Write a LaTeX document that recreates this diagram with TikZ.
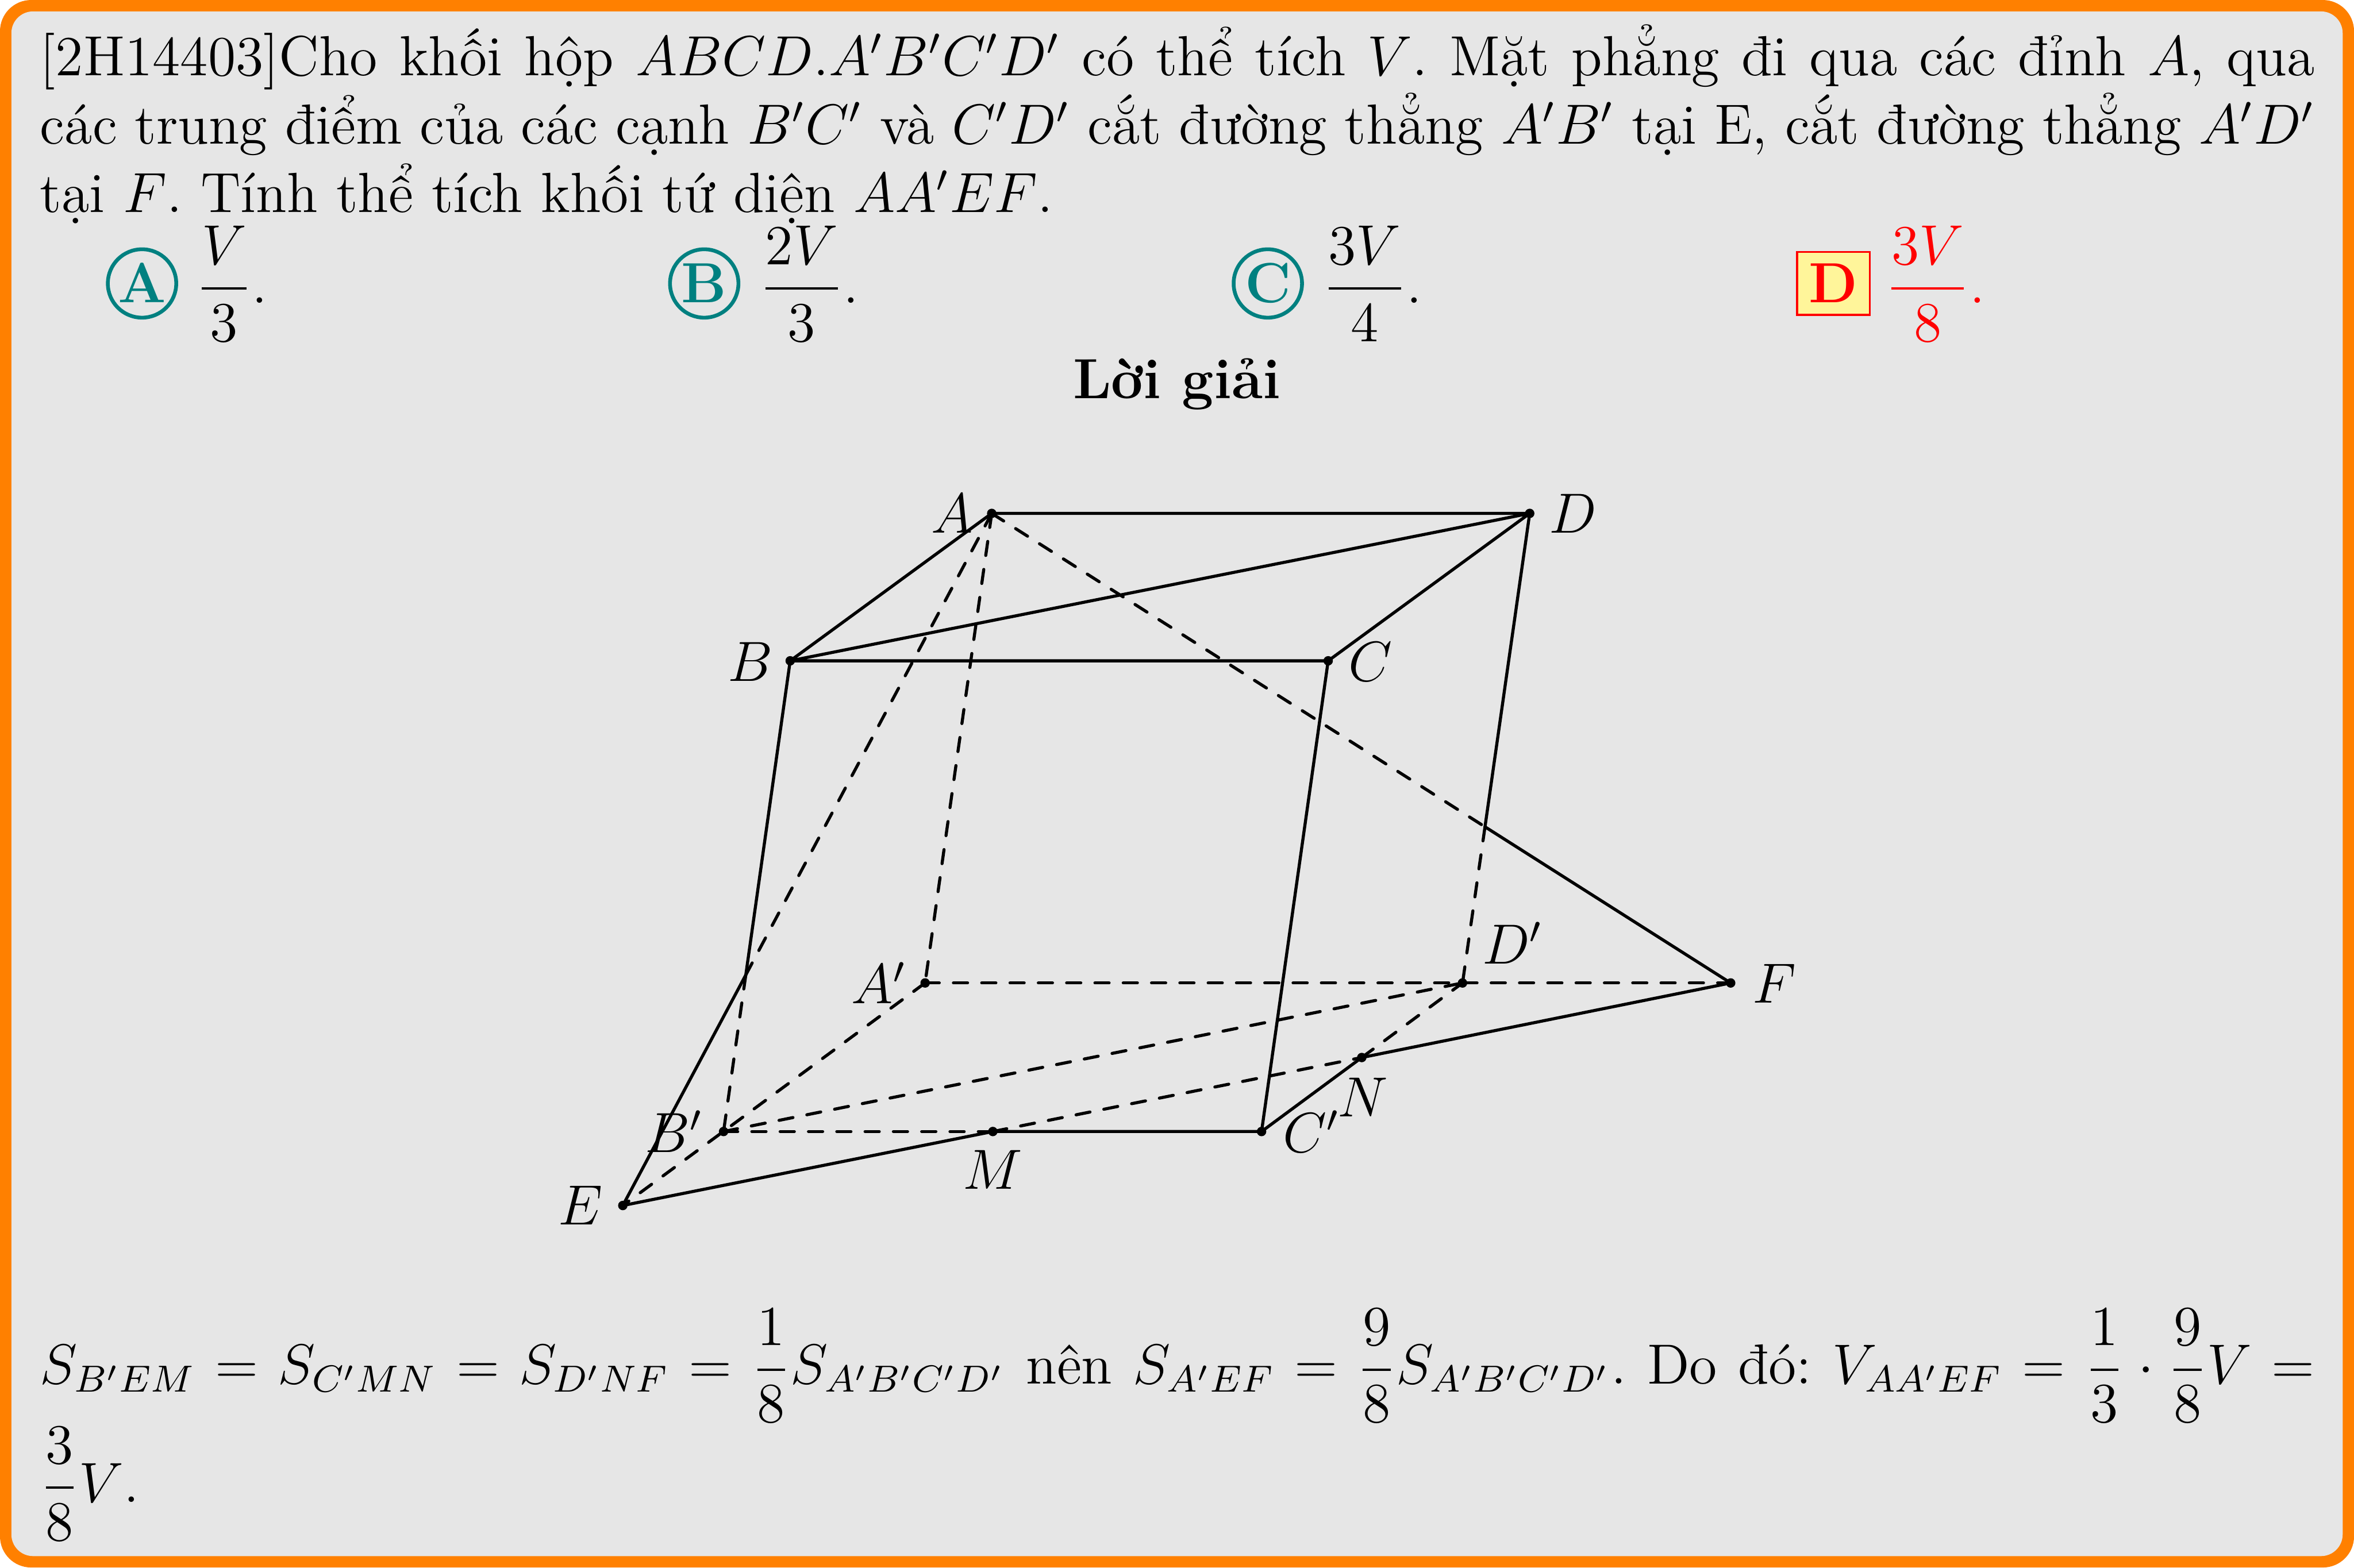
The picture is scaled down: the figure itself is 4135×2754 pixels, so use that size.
\documentclass[tikz,border=0pt,12pt]{standalone}
\usepackage{amsmath}
\usetikzlibrary{calc}
\definecolor{frameorange}{RGB}{255,128,0}
\definecolor{panelgray}{RGB}{230,230,230}
\definecolor{choiceteal}{RGB}{0,128,128}
\definecolor{keyyellow}{RGB}{255,245,154}
\tikzset{
  pt/.style={circle,fill=black,inner sep=0pt,minimum size=2pt},
  solidedge/.style={line width=0.65pt,line cap=round,line join=round},
  dashedge/.style={line width=0.65pt,line cap=round,dashed},
  ptlabel/.style={inner sep=0pt},
  para/.style={anchor=north west,inner sep=0pt,text width=16.945cm,align=justify,font=\frenchspacing},
  frac/.style={anchor=base west,inner sep=0pt},
  choicecircle/.style={circle,draw=choiceteal,line width=0.8pt,text=choiceteal,font=\bfseries,inner sep=0pt,minimum size=14.5pt,text height=8.2pt,text depth=0pt},
  choicebox/.style={rectangle,draw=red,fill=keyyellow,line width=0.4pt,text=red,font=\bfseries,inner sep=0pt,minimum width=15.4pt,minimum height=13.35pt,text height=8.2pt,text depth=0pt}
}
\begin{document}
\begin{tikzpicture}[x=0.0042373cm,y=-0.0042373cm]
\useasboundingbox (0,0) rectangle (4135,2754);
\fill[frameorange,rounded corners=6.6pt] (0,0) rectangle (4135,2754);
\fill[panelgray,rounded corners=4.6pt] (20,20) rectangle (4115,2734);

\node[para] (statement) at (69,41) {[2H14403]Cho khối hộp $ABCD.A'B'C'D'$ có thể tích $V$. Mặt phẳng đi qua các đỉnh $A$, qua các trung điểm của các cạnh $B'C'$ và $C'D'$ cắt đường thẳng $A'B'$ tại E, cắt đường thẳng $A'D'$ tại $F$. Tính thể tích khối tứ diện $AA'EF$.};

\node[choicecircle] (ca) at (249.5,498) {A};
\node[frac] (fa) at (343,532) {$\dfrac{V}{3}.$};
\node[choicecircle] (cb) at (1237,498) {B};
\node[frac] (fb) at (1333,532) {$\dfrac{2V}{3}.$};
\node[choicecircle] (cc) at (2227,498) {C};
\node[frac] (fc) at (2322,532) {$\dfrac{3V}{4}.$};
\node[choicebox] (cd) at (3220.5,498) {D};
\node[frac,text=red] (fd) at (3311,532) {$\dfrac{3V}{8}.$};

\node[anchor=base,inner sep=0pt,font=\bfseries] (title) at (2067,700) {Lời giải};

% points
\node[pt] (A) at (1742,902) {};
\node[pt] (D) at (2687,902) {};
\node[pt] (B) at (1388,1161) {};
\node[pt] (C) at (2333,1161) {};
\node[pt] (Ap) at (1625,1727) {};
\node[pt] (Dp) at (2569,1727) {};
\node[pt] (Bp) at (1271,1988) {};
\node[pt] (Cp) at (2216,1988) {};
\node[pt] (E) at (1094,2118) {};
\node[pt] (F) at (3040,1727) {};
\node[pt] (M) at (1744,1988) {};
\node[pt] (N) at (2392,1858) {};
\coordinate (X) at (intersection of A.center--E.center and B.center--Bp.center);
\coordinate (Y) at (intersection of A.center--F.center and D.center--Dp.center);

% solid
\draw[solidedge] (B.center) -- (A.center) -- (D.center) -- (C.center) -- (B.center) -- (D.center);
\draw[solidedge] (B.center) -- (X) -- (E.center) -- (M.center) -- (Cp.center) -- (C.center);
\draw[solidedge] (Cp.center) -- (N.center) -- (F.center) -- (Y) -- (D.center);
% dashed
\draw[dashedge] (A.center) -- (Ap.center);
\draw[dashedge] (A.center) -- (X);
\draw[dashedge] (X) -- (Bp.center);
\draw[dashedge] (A.center) -- (Y);
\draw[dashedge] (Y) -- (Dp.center);
\draw[dashedge] (Ap.center) -- (F.center);
\draw[dashedge] (Ap.center) -- (E.center);
\draw[dashedge] (Bp.center) -- (Dp.center);
\draw[dashedge] (Bp.center) -- (M.center);
\draw[dashedge] (M.center) -- (N.center);
\draw[dashedge] (N.center) -- (Dp.center);

% labels
\node[ptlabel] (lA) at (1672,902) {$A$};
\node[ptlabel] (lD) at (2763,902) {$D$};
\node[ptlabel] (lB) at (1318,1163) {$B$};
\node[ptlabel] (lC) at (2407,1163) {$C$};
\node[ptlabel] (lAp) at (1544,1727) {$A'$};
\node[ptlabel] (lDp) at (2657,1657) {$D'$};
\node[ptlabel] (lBp) at (1184,1988) {$B'$};
\node[ptlabel] (lCp) at (2304,1988) {$C'$};
\node[ptlabel] (lE) at (1020,2118) {$E$};
\node[ptlabel] (lF) at (3117,1728) {$F$};
\node[ptlabel] (lM) at (1744,2055) {$M$};
\node[ptlabel] (lN) at (2394,1928) {$N$};

\node[para] (solution) at (69,2298) {$S_{B'EM}=S_{C'MN}=S_{D'NF}=\dfrac{1}{8}S_{A'B'C'D'}$ nên $S_{A'EF}=\dfrac{9}{8}S_{A'B'C'D'}$. Do đó: $V_{AA'EF}=\dfrac{1}{3}\cdot\dfrac{9}{8}V=$\linebreak$\dfrac{3}{8}V$.};
\end{tikzpicture}
\end{document}
